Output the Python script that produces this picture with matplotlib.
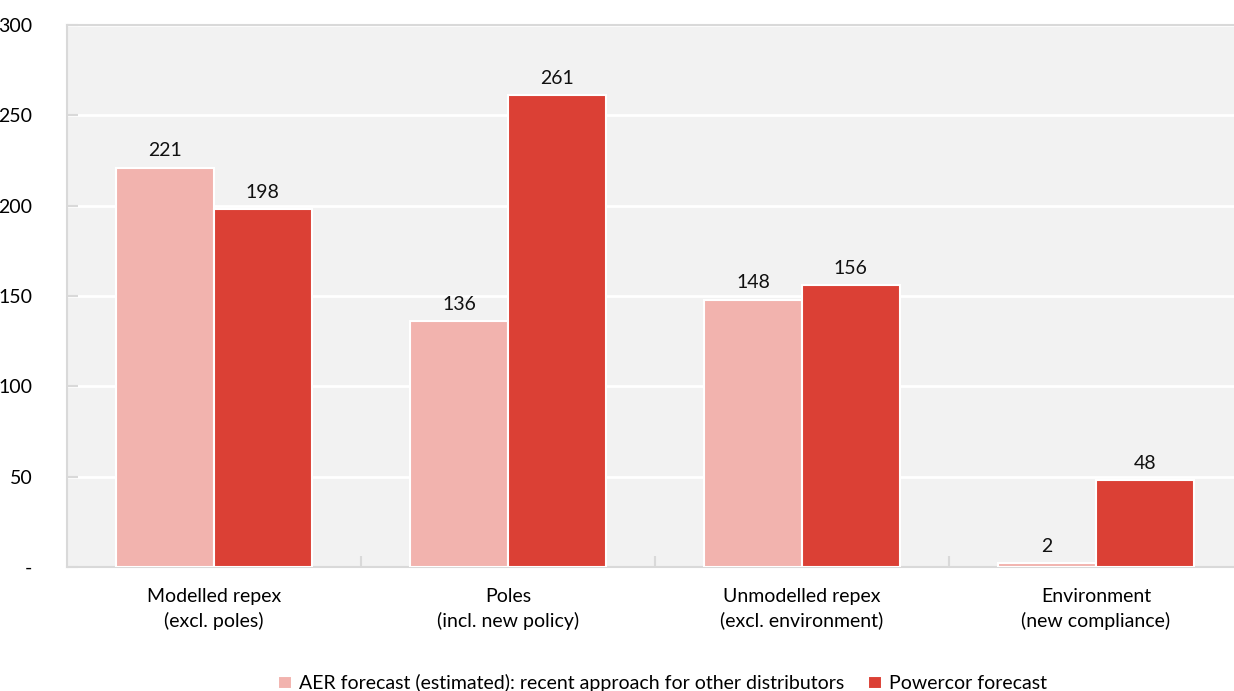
import numpy as np
import matplotlib.pyplot as plt

plt.rcParams['font.family'] = ['Lato', 'DejaVu Sans']

categories = ['Modelled repex\n(excl. poles)', 'Poles\n(incl. new policy)',
              'Unmodelled repex\n(excl. environment)', 'Environment\n(new compliance)']
aer_forecast = [221, 136, 148, 2]
powercor_forecast = [198, 261, 156, 48]
series_names = ['AER forecast (estimated): recent approach for other distributors',
                'Powercor forecast']
y_ticks = [0, 50, 100, 150, 200, 250, 300]
y_tick_labels = ['-', '50', '100', '150', '200', '250', '300']

pink = '#f2b3ae'
red = '#db4035'
grey = '#d9d9d9'

fig = plt.figure(figsize=(12.34, 6.91), dpi=100)
ax = fig.add_axes([67 / 1234, 124 / 691, 1176 / 1234, 542 / 691])
ax.set_facecolor('#f2f2f2')

x = np.arange(len(categories))
w = 0.332
b1 = ax.bar(x - w / 2, aer_forecast, w, color=pink, edgecolor='white', linewidth=1.5,
            label=series_names[0], zorder=3)
b2 = ax.bar(x + w / 2, powercor_forecast, w, color=red, edgecolor='white', linewidth=1.5,
            label=series_names[1], zorder=3)

for bars, vals in ((b1, aer_forecast), (b2, powercor_forecast)):
    for rect, v in zip(bars, vals):
        ax.annotate(str(v), (rect.get_x() + rect.get_width() / 2, v),
                    xytext=(0, 6), textcoords='offset points',
                    ha='center', va='bottom', fontsize=14, color='#111111')

ax.set_xlim(-0.5, len(categories) - 0.5)
ax.set_ylim(0, 300)
ax.set_yticks(y_ticks)
ax.set_yticklabels(y_tick_labels)
ax.yaxis.grid(True, color='white', linewidth=2, zorder=1)
ax.set_axisbelow(True)

ax.set_xticks(x)
ax.set_xticklabels(categories, fontsize=14, linespacing=1.45)
ax.tick_params(axis='x', length=0, pad=15)
ax.set_xticks(x[:-1] + 0.5, minor=True)
ax.tick_params(axis='x', which='minor', direction='in', length=8, width=1.5, color=grey)
ax.tick_params(axis='y', direction='in', length=8, width=1.5, color=grey,
               labelsize=14, pad=25)

for side in ('left', 'bottom', 'top', 'right'):
    ax.spines[side].set_color(grey)
    ax.spines[side].set_linewidth(1.5)

fig.legend(handles=[b1, b2], labels=series_names, loc='lower center',
           bbox_to_anchor=(0.537, -0.027), ncol=2, frameon=False, fontsize=14,
           handlelength=0.7, handleheight=0.7, handletextpad=0.4, columnspacing=1.2)

fig.savefig('out.png', dpi=100)
